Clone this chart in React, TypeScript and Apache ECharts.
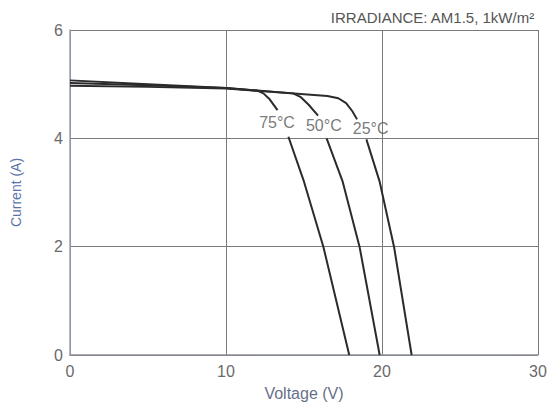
import React, { useEffect, useRef } from "react";
import * as echarts from "echarts";

// [Voltage (V), Current (A)] — "-" marks a gap where the curve label sits
const curve75: (number | string)[][] = [
  [0, 5.07], [5, 5.0], [10, 4.93], [12, 4.88], [12.4, 4.83], [12.8, 4.72], [13.3, 4.52],
  ["-", "-"],
  [14.0, 4.03], [15.0, 3.2], [16.24, 2.0], [17.9, 0],
];
const curve50: (number | string)[][] = [
  [0, 5.02], [5, 4.98], [10, 4.93], [14.3, 4.83], [14.8, 4.76], [15.3, 4.62], [15.9, 4.42],
  ["-", "-"],
  [16.45, 4.0], [17.48, 3.2], [18.56, 2.0], [19.85, 0],
];
const curve25: (number | string)[][] = [
  [0, 4.97], [5, 4.95], [10, 4.92], [16.5, 4.78], [17.2, 4.74], [17.7, 4.65], [18.1, 4.5], [18.4, 4.35],
  ["-", "-"],
  [19.0, 3.98], [19.85, 3.2], [20.77, 2.0], [21.9, 0],
];
const curveLabels = [
  { name: "75°C", value: [13.27, 4.3] },
  { name: "50°C", value: [16.27, 4.24] },
  { name: "25°C", value: [19.27, 4.19] },
];
const xTicks = { min: 0, max: 30, interval: 10 };
const yTicks = { min: 0, max: 6, interval: 2 };
const titleText = "IRRADIANCE: AM1.5, 1kW/m²";

const FONT = "Liberation Sans, Arial, sans-serif";

export default function App() {
  const ref = useRef<HTMLDivElement>(null);
  useEffect(() => {
    if (!ref.current) return;
    const chart = echarts.init(ref.current, null, { renderer: "svg" });
    const lineStyle = { color: "#2b2b2b", width: 2 };
    const mkLine = (name: string, data: any[]) => ({
      name,
      type: "line",
      data,
      showSymbol: false,
      symbol: "none",
      smooth: false,
      connectNulls: false,
      lineStyle,
      z: 3,
    });
    chart.setOption({
      animation: false,
      backgroundColor: "#ffffff",
      title: {
        text: titleText,
        right: 8,
        top: 5,
        textStyle: { fontFamily: FONT, fontSize: 15, fontWeight: "normal", color: "#555" },
      },
      grid: { left: 70, right: 10, top: 30, bottom: 47, containLabel: false, outerBoundsMode: "none" },
      xAxis: {
        type: "value",
        ...xTicks,
        name: "Voltage (V)",
        nameLocation: "middle",
        nameGap: 30,
        nameTextStyle: { fontFamily: FONT, fontSize: 16, color: "#66708a" },
        axisLine: { show: true, lineStyle: { color: "#8a8f98", width: 1.5 } },
        axisTick: { show: false },
        axisLabel: { fontFamily: FONT, fontSize: 16, color: "#6a6a6a", margin: 8 },
        splitLine: { show: true, lineStyle: { color: "#7a7a7a", width: 1 } },
      },
      yAxis: {
        type: "value",
        ...yTicks,
        name: "Current (A)",
        nameLocation: "middle",
        nameGap: 47,
        nameTextStyle: { fontFamily: FONT, fontSize: 14, color: "#5a74a8" },
        axisLine: { show: true, lineStyle: { color: "#9aa3b5", width: 1.5 } },
        axisTick: { show: false },
        axisLabel: { fontFamily: FONT, fontSize: 16, color: "#6a6a6a", margin: 7 },
        splitLine: { show: true, lineStyle: { color: "#7a7a7a", width: 1 } },
      },
      series: [
        mkLine("75°C", curve75),
        mkLine("50°C", curve50),
        mkLine("25°C", curve25),
        {
          type: "scatter",
          data: curveLabels,
          symbolSize: 0,
          z: 4,
          label: {
            show: true,
            position: "inside",
            formatter: "{b}",
            fontFamily: FONT,
            fontSize: 16,
            color: "#555",
          },
        },
      ],
    });
    return () => chart.dispose();
  }, []);
  return (
    <div
      ref={ref}
      style={{ position: "absolute", left: 0, top: 0, width: 548, height: 402 }}
    />
  );
}
